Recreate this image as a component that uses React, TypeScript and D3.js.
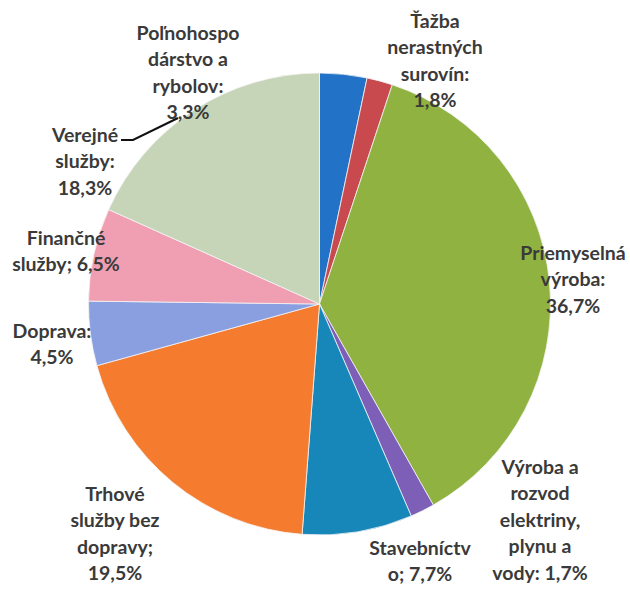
import React from "react";
import * as d3 from "d3";

const categories = [
  "Poľnohospodárstvo a rybolov",
  "Ťažba nerastných surovín",
  "Priemyselná výroba",
  "Výroba a rozvod elektriny, plynu a vody",
  "Stavebníctvo",
  "Trhové služby bez dopravy",
  "Doprava",
  "Finančné služby",
  "Verejné služby",
];
const values = [3.3, 1.8, 36.7, 1.7, 7.7, 19.5, 4.5, 6.5, 18.3];
const colors = [
  "#2272c8",
  "#c84a4e",
  "#8fb241",
  "#7d5fb8",
  "#1786b8",
  "#f57c2e",
  "#8a9fe0",
  "#f09eb2",
  "#c6d5b8",
];
const labelLines = [
  ["Poľnohospo", "dárstvo a", "rybolov:", "3,3%"],
  ["Ťažba", "nerastných", "surovín:", "1,8%"],
  ["Priemyselná", "výroba:", "36,7%"],
  ["Výroba a", "rozvod", "elektriny,", "plynu a", "vody: 1,7%"],
  ["Stavebníctv", "o; 7,7%"],
  ["Trhové", "služby bez", "dopravy;", "19,5%"],
  ["Doprava:", "4,5%"],
  ["Finančné", "služby; 6,5%"],
  ["Verejné", "služby:", "18,3%"],
];
// label anchor (center x, first line center y)
const labelPos: [number, number][] = [
  [188, 32],
  [435, 20],
  [573, 252],
  [540, 466],
  [420, 547],
  [115, 493],
  [52, 330],
  [66, 237],
  [85, 134],
];

const W = 630;
const H = 593;
const cx = 319.5;
const cy = 304;
const R = 231;
const lineH = 26.5;

export default function App() {
  const pie = d3.pie<number>().sort(null).value((d) => d);
  const arcs = pie(values);
  const arc = d3.arc<d3.PieArcDatum<number>>().innerRadius(0).outerRadius(R);
  const leader = d3.line()([
    [121, 140],
    [133, 140],
    [178, 118],
  ]);
  return (
    <svg
      width={W}
      height={H}
      style={{ position: "absolute", left: 0, top: 0, background: "#fff" }}
    >
      <g transform={`translate(${cx},${cy})`}>
        {arcs.map((a, i) => (
          <path
            key={categories[i]}
            d={arc(a) || ""}
            fill={colors[i]}
            stroke="#f4f4f4"
            strokeWidth={0.8}
          />
        ))}
      </g>
      <path d={leader || ""} fill="none" stroke="#111" strokeWidth={2} />
      {labelLines.map((lines, i) => (
        <text
          key={categories[i]}
          textAnchor="middle"
          fontFamily="Lato, 'DejaVu Sans Condensed', sans-serif"
          fontWeight={700}
          fontSize={19.5}
          fill="#3a3a3a"
        >
          {lines.map((l, j) => (
            <tspan
              key={j}
              x={labelPos[i][0]}
              y={labelPos[i][1] + j * lineH}
              dominantBaseline="central"
            >
              {l}
            </tspan>
          ))}
        </text>
      ))}
    </svg>
  );
}
